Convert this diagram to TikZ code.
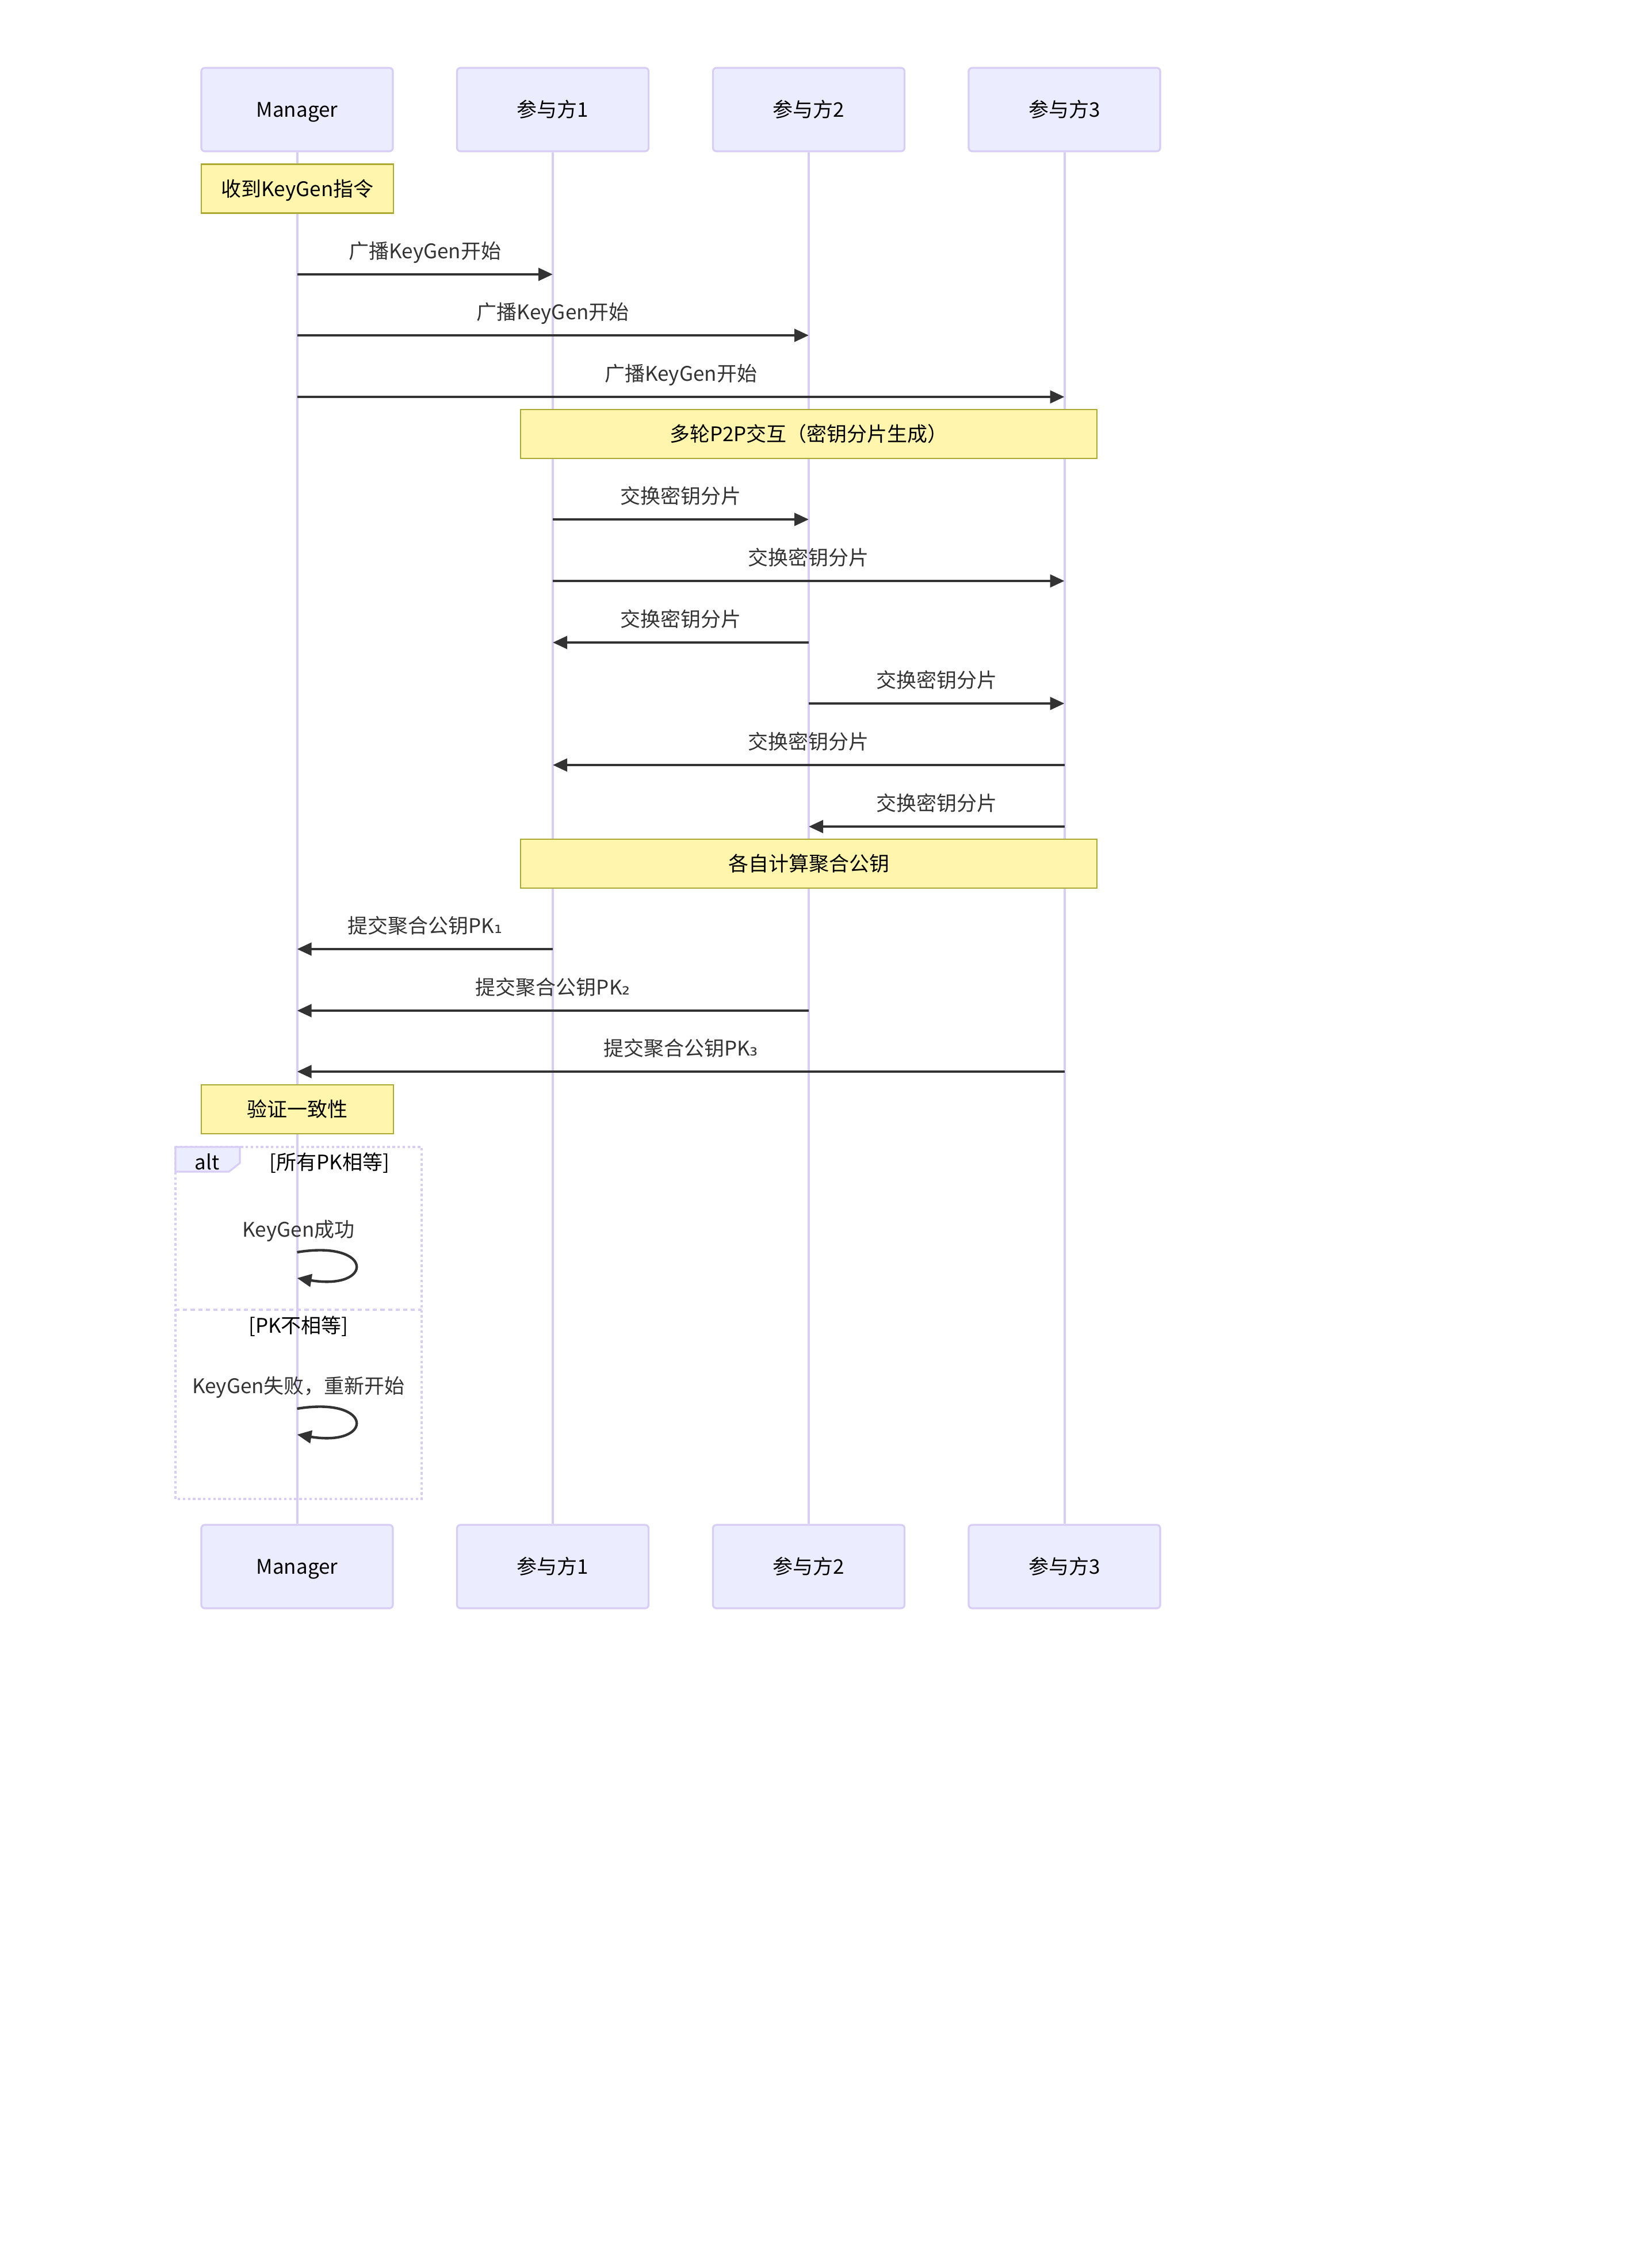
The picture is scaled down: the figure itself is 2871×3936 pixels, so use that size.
\documentclass[tikz,border=0pt]{standalone}
\usepackage{fontspec}
\setmainfont{Noto Sans CJK SC}
\newfontfamily\subfont{DejaVu Sans}
\usetikzlibrary{arrows.meta}
\definecolor{actfill}{HTML}{ECECFF}
\definecolor{actline}{HTML}{D8CDF4}
\definecolor{notefill}{HTML}{FFF5AD}
\definecolor{noteline}{HTML}{AAAA33}
\definecolor{msgcol}{HTML}{333333}
\tikzset{
  fixtext/.style={text height=7.6pt, text depth=1pt},
  actorbox/.style={draw=actline, fill=actfill, line width=0.8pt, rounded corners=1.5pt,
    minimum width=83.25pt, minimum height=36.25pt, inner sep=0pt, text=black, fixtext},
  notebox/.style={draw=noteline, fill=notefill, line width=0.7pt,
    minimum width=83.5pt, minimum height=21.25pt, inner sep=0pt, text=black, fixtext},
  widenote/.style={notebox, minimum width=250.5pt},
  lifeline/.style={draw=actline, line width=1pt},
  msgline/.style={draw=msgcol, line width=1.1pt, -{Triangle[length=6.25pt,width=5.5pt]}},
  msglabel/.style={text=msgcol, inner sep=0pt, yshift=10.25pt, fixtext},
  altframe/.style={draw=actline, line width=1pt, dash pattern=on 1.1pt off 1.1pt},
  altdiv/.style={draw=actline, line width=1pt, dash pattern=on 1.8pt off 1.5pt},
  plain/.style={inner sep=0pt, text=black, fixtext},
}
\newcommand\seqmsg[5]{%
  \draw[msgline] (#1 |- 0,#3) -- (#2 |- 0,#3) node[msglabel, midway] (#5) {#4};}
\begin{document}
\begin{tikzpicture}[x=0.25pt, y=-0.25pt, font=\fontsize{8.75pt}{10.5pt}\selectfont]
\fill[white] (0,0) rectangle (2871,3936);
\useasboundingbox (0,0) rectangle (2871,3936);

% top actors
\node[actorbox] (mgr) at (516.5,190.5) {Manager};
\node[actorbox] (pa) at (961,190.5) {参与方1};
\node[actorbox] (pb) at (1406,190.5) {参与方2};
\node[actorbox] (pc) at (1850.5,190.5) {参与方3};
% bottom actors
\node[actorbox] (mgrb) at (516.5,2723.5) {Manager};
\node[actorbox] (pab) at (961,2723.5) {参与方1};
\node[actorbox] (pbb) at (1406,2723.5) {参与方2};
\node[actorbox] (pcb) at (1850.5,2723.5) {参与方3};

% lifelines
\draw[lifeline] (mgr.south) -- (mgrb.north);
\draw[lifeline] (pa.south) -- (pab.north);
\draw[lifeline] (pb.south) -- (pbb.north);
\draw[lifeline] (pc.south) -- (pcb.north);

% notes and messages
\node[notebox] (n1) at (517,328) {收到KeyGen指令};
\seqmsg{mgr}{pa}{477}{广播KeyGen开始}{l1}
\seqmsg{mgr}{pb}{583}{广播KeyGen开始}{l2}
\seqmsg{mgr}{pc}{690}{广播KeyGen开始}{l3}
\node[widenote] (n2) at (1406,754.5) {多轮P2P交互（密钥分片生成）};
\seqmsg{pa}{pb}{903}{交换密钥分片}{l4}
\seqmsg{pa}{pc}{1010}{交换密钥分片}{l5}
\seqmsg{pb}{pa}{1117}{交换密钥分片}{l6}
\seqmsg{pb}{pc}{1223}{交换密钥分片}{l7}
\seqmsg{pc}{pa}{1330}{交换密钥分片}{l8}
\seqmsg{pc}{pb}{1437}{交换密钥分片}{l9}
\node[widenote] (n3) at (1406,1501.5) {各自计算聚合公钥};
\seqmsg{pa}{mgr}{1650}{提交聚合公钥PK{\subfont ₁}}{l10}
\seqmsg{pb}{mgr}{1757}{提交聚合公钥PK{\subfont ₂}}{l11}
\seqmsg{pc}{mgr}{1863}{提交聚合公钥PK{\subfont ₃}}{l12}
\node[notebox] (n4) at (517,1928.5) {验证一致性};

% alt frame
\draw[altframe] (305,1994) rectangle (733,2606);
\draw[fill=actfill, draw=actline, line width=0.8pt] (305,1994) -- (417,1994) -- (417,2022) -- (398,2037) -- (305,2037) -- cycle;
\node[plain] (alttxt) at (360,2020) {alt};
\node[plain] (cond1) at (573,2020) {[所有PK相等]};
\draw[altdiv] (305,2277) -- (733,2277);
\node[plain] (cond2) at (519,2304) {[PK不相等]};

% self messages
\coordinate (s1a) at (mgr |- 0,2177);
\coordinate (s1b) at (mgr |- 0,2222);
\node[text=msgcol, inner sep=0pt, fixtext] (ls1) at (519,2137) {KeyGen成功};
\draw[msgline] (s1a) .. controls +(134,-22) and +(134,22) .. (s1b);
\coordinate (s2a) at (mgr |- 0,2449);
\coordinate (s2b) at (mgr |- 0,2494);
\node[text=msgcol, inner sep=0pt, fixtext] (ls2) at (519,2409) {KeyGen失败，重新开始};
\draw[msgline] (s2a) .. controls +(134,-22) and +(134,22) .. (s2b);
\end{tikzpicture}
\end{document}
